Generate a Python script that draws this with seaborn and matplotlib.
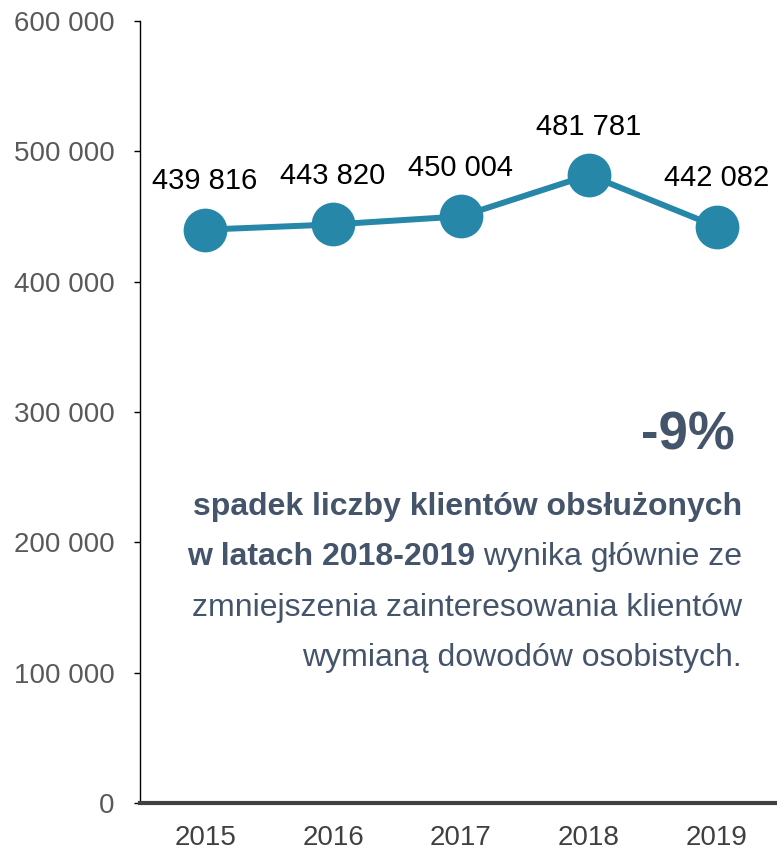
import matplotlib
matplotlib.use("Agg")
import matplotlib.pyplot as plt
import seaborn as sns
import pandas as pd

# data
years = [2015, 2016, 2017, 2018, 2019]
clients = [439816, 443820, 450004, 481781, 442082]
y_ticks = [0, 100000, 200000, 300000, 400000, 500000, 600000]

line_color = "#2787A9"
text_color = "#44546A"

sns.set_style("white")
plt.rcParams["font.family"] = ["Liberation Sans", "DejaVu Sans"]

df = pd.DataFrame({"year": years, "clients": clients})

fig = plt.figure(figsize=(7.77, 8.52), dpi=100)
ax = fig.add_axes([0.180, 0.0575, 0.82, 0.918])

sns.lineplot(data=df, x="year", y="clients", ax=ax, color=line_color,
             linewidth=4.3, marker="o", markersize=31.5, markeredgewidth=0)

for x, y in zip(years, clients):
    ax.annotate(f"{y:,}".replace(",", " "), (x, y), xytext=(0, 29),
                textcoords="offset points", ha="center", va="baseline",
                fontsize=21, color="black")

ax.set_xlim(2014.49, 2019.47)
ax.set_ylim(0, 600000)
ax.set_xticks(years)
ax.set_xticklabels([str(y) for y in years])
ax.set_yticks(y_ticks)
ax.set_yticklabels([f"{t:,}".replace(",", " ") for t in y_ticks])
ax.set_xlabel("")
ax.set_ylabel("")

for s in ["top", "right"]:
    ax.spines[s].set_visible(False)
ax.spines["left"].set_color("black")
ax.spines["left"].set_linewidth(1.0)
ax.spines["bottom"].set_color("#404040")
ax.spines["bottom"].set_linewidth(3.0)

ax.tick_params(axis="y", left=True, length=4, width=1, color="black",
               pad=14, labelsize=20, labelcolor="#595959")
ax.tick_params(axis="x", bottom=False, pad=12, labelsize=20,
               labelcolor="#404040")

# annotation text
tx = 742 / 777


def fy(px):
    return 1 - px / 852


fig.text(735 / 777, fy(450), "-9%", ha="right", va="baseline",
         fontsize=38, fontweight="bold", color=text_color)
fig.text(tx, fy(515), "spadek liczby klientów obsłużonych",
         ha="right", va="baseline", fontsize=23, fontweight="bold",
         color=text_color)
t_norm = fig.text(tx, fy(565), " wynika głównie ze", ha="right",
                  va="baseline", fontsize=23, color=text_color)
fig.canvas.draw()
bb = t_norm.get_window_extent(renderer=fig.canvas.get_renderer())
fig.text(bb.x0 / fig.bbox.width, fy(565), "w latach 2018-2019",
         ha="right", va="baseline", fontsize=23, fontweight="bold",
         color=text_color)
fig.text(tx, fy(616), "zmniejszenia zainteresowania klientów",
         ha="right", va="baseline", fontsize=23, color=text_color)
fig.text(tx, fy(666), "wymianą dowodów osobistych.",
         ha="right", va="baseline", fontsize=23, color=text_color)

fig.savefig("out.png", dpi=100)
